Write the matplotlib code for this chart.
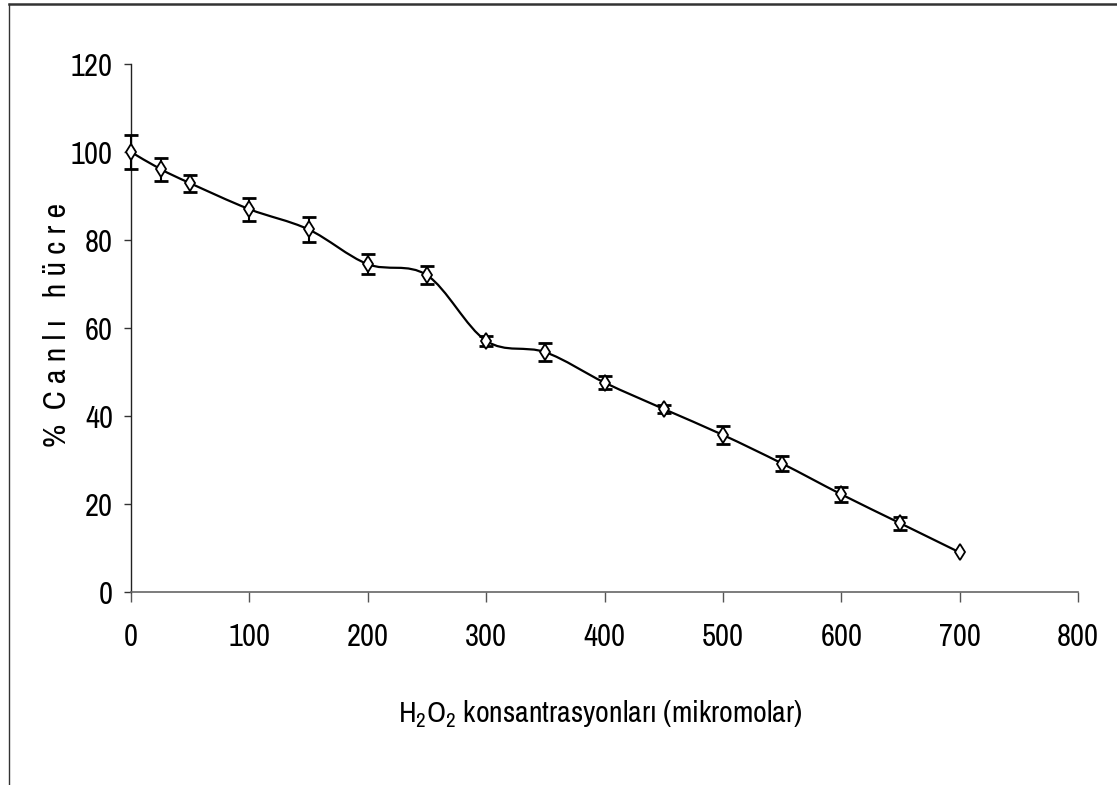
import numpy as np
import matplotlib
matplotlib.use("Agg")
import matplotlib.pyplot as plt
from matplotlib import font_manager as fm
from matplotlib.path import Path
from matplotlib.patches import PathPatch
from matplotlib.lines import Line2D

# values
concentration = [0, 25, 50, 100, 150, 200, 250, 300, 350, 400, 450, 500, 550, 600, 650, 700]
viable = [100.0, 96.1, 92.9, 87.0, 82.4, 74.5, 72.0, 57.1, 54.5, 47.6, 41.6, 35.7, 29.2, 22.2, 15.6, 9.0]
err = [3.8, 2.6, 1.9, 2.6, 2.8, 2.3, 2.0, 1.1, 2.0, 1.5, 1.0, 2.0, 1.6, 1.7, 1.4, 0.0]
xticks = [0, 100, 200, 300, 400, 500, 600, 700, 800]
yticks = [0, 20, 40, 60, 80, 100, 120]

# arial narrow look-alike, whichever is installed
wanted = ["Liberation Sans Narrow", "Arial Narrow", "Archivo Narrow", "PT Sans Narrow",
          "Roboto Condensed", "Pragati Narrow", "Fira Sans Condensed",
          "IBM Plex Sans Condensed", "Liberation Sans"]
installed = {f.name for f in fm.fontManager.ttflist}
FONT = [n for n in wanted if n in installed] + ["DejaVu Sans"]
plt.rcParams["font.family"] = FONT
plt.rcParams["mathtext.fontset"] = "custom"
plt.rcParams["mathtext.rm"] = FONT[0]


def smooth_path(xs, ys):
    # excel style smoothed line: catmull-rom segments as cubic beziers
    pts = np.column_stack([xs, ys]).astype(float)
    n = len(pts)
    verts = [pts[0]]
    codes = [Path.MOVETO]
    for i in range(n - 1):
        p0 = pts[i - 1] if i > 0 else pts[i]
        p1 = pts[i]
        p2 = pts[i + 1]
        p3 = pts[i + 2] if i + 2 < n else pts[i + 1]
        c1 = p1 + (p2 - p0) / 6.0
        c2 = p2 - (p3 - p1) / 6.0
        verts += [c1, c2, p2]
        codes += [Path.CURVE4] * 3
    return Path(verts, codes)


fig = plt.figure(figsize=(11.17, 7.85), dpi=100)
ax = fig.add_axes([131 / 1117, 1 - 592 / 785, (1078 - 131) / 1117, (592 - 64) / 785])

ax.add_patch(PathPatch(smooth_path(concentration, viable), fill=False,
                       edgecolor="black", lw=1.6, zorder=2, clip_on=False))

has_err = [e > 0 for e in err]
eb = ax.errorbar(np.array(concentration)[has_err], np.array(viable)[has_err],
                 yerr=np.array(err)[has_err], fmt="none", ecolor="black",
                 elinewidth=1.5, capsize=5, capthick=2.0, zorder=3)
for art in eb.lines[1] + eb.lines[2]:
    art.set_clip_on(False)
ax.plot(concentration, viable, linestyle="none", marker="d", markersize=8,
        markerfacecolor="white", markeredgecolor="black", markeredgewidth=1.3,
        zorder=4, clip_on=False)

ax.set_xlim(0, 800)
ax.set_ylim(0, 120)
ax.set_xticks(xticks)
ax.set_yticks(yticks)
ax.tick_params(axis="y", direction="out", length=5, width=1, color="#333333",
               labelsize=22, pad=8)
ax.tick_params(axis="x", direction="out", length=7, width=1, color="#555555",
               labelsize=22, pad=15)
ax.spines["top"].set_visible(False)
ax.spines["right"].set_visible(False)
ax.spines["left"].set_color("#222222")
ax.spines["bottom"].set_color("#666666")
ax.spines["left"].set_linewidth(1.0)
ax.spines["bottom"].set_linewidth(1.2)

fig.text(600 / 1117, 1 - 714 / 785,
         r"H$_\mathregular{2}$O$_\mathregular{2}$ konsantrasyonları (mikromolar)",
         ha="center", va="center", fontsize=21.5)
fig.text(57 / 1117, 1 - 325 / 785, "%  C a n l ı   h ü c r e", rotation=90,
         ha="center", va="center", fontsize=23)

# outer frame (top and left edges only visible)
fig.add_artist(Line2D([9 / 1117, 1], [1 - 4 / 785, 1 - 4 / 785],
                      transform=fig.transFigure, color="#333333", lw=1.8))
fig.add_artist(Line2D([9 / 1117, 9 / 1117], [0, 1 - 4 / 785],
                      transform=fig.transFigure, color="#333333", lw=1.0))

fig.savefig("out.png", dpi=100)
